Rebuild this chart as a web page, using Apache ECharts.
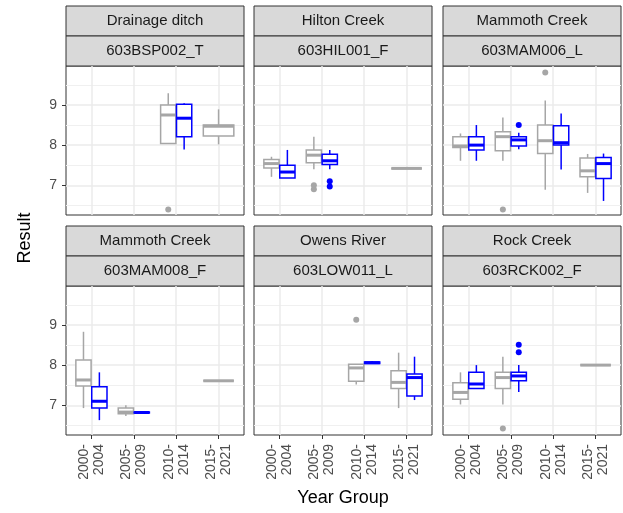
<!DOCTYPE html>
<html>
<head>
<meta charset="utf-8">
<script src="https://cdn.jsdelivr.net/npm/echarts@6/dist/echarts.min.js"></script>
<style>html,body{margin:0;padding:0;background:#fff}#main{width:623px;height:513px}</style>
</head>
<body>
<div id="main"></div>
<script>
var sites = ['Drainage ditch', 'Hilton Creek', 'Mammoth Creek', 'Mammoth Creek', 'Owens River', 'Rock Creek'];
var stations = ['603BSP002_T', '603HIL001_F', '603MAM006_L', '603MAM008_F', '603LOW011_L', '603RCK002_F'];
var yearGroups = ['2000-\n2004', '2005-\n2009', '2010-\n2014', '2015-\n2021'];
var yTicks = [7, 8, 9];
var yMinorTicks = [6.5, 7.5, 8.5, 9.5];

// [panel, year group, lower whisker, q1, median, q3, upper whisker]
var greyBoxes = [
	[0, 2, 8.04, 8.04, 8.75, 9.0, 9.29],
	[0, 3, 8.02, 8.23, 8.47, 8.5, 8.89],
	[1, 0, 7.21, 7.43, 7.54, 7.64, 7.71],
	[1, 1, 7.4, 7.56, 7.75, 7.88, 8.21],
	[1, 3, 7.42, 7.42, 7.42, 7.42, 7.42],
	[2, 0, 7.61, 7.94, 7.98, 8.21, 8.29],
	[2, 1, 7.61, 7.86, 8.21, 8.33, 8.69],
	[2, 2, 6.89, 7.79, 8.11, 8.5, 9.11],
	[2, 3, 6.81, 7.21, 7.36, 7.68, 7.78],
	[3, 0, 6.93, 7.48, 7.63, 8.13, 8.83],
	[3, 1, 6.73, 6.79, 6.83, 6.93, 7.0],
	[3, 3, 7.61, 7.61, 7.61, 7.61, 7.61],
	[4, 2, 7.52, 7.6, 7.93, 8.02, 8.02],
	[4, 3, 6.93, 7.42, 7.57, 7.86, 8.31],
	[5, 0, 7.02, 7.15, 7.32, 7.56, 7.82],
	[5, 1, 7.02, 7.42, 7.69, 7.82, 8.21],
	[5, 3, 8.0, 8.0, 8.0, 8.0, 8.0]
];
var blueBoxes = [
	[0, 2, 7.89, 8.21, 8.67, 9.02, 9.04],
	[1, 0, 7.18, 7.18, 7.33, 7.5, 7.88],
	[1, 1, 7.4, 7.52, 7.61, 7.77, 7.88],
	[2, 0, 7.61, 7.88, 8.0, 8.21, 8.5],
	[2, 1, 7.9, 7.98, 8.13, 8.21, 8.31],
	[2, 2, 7.39, 8.0, 8.06, 8.48, 8.79],
	[2, 3, 6.61, 7.17, 7.54, 7.69, 7.79],
	[3, 0, 6.63, 6.93, 7.1, 7.46, 7.82],
	[3, 1, 6.8, 6.81, 6.82, 6.83, 6.84],
	[4, 2, 8.03, 8.04, 8.06, 8.08, 8.1],
	[4, 3, 7.13, 7.23, 7.69, 7.78, 8.21],
	[5, 0, 7.42, 7.42, 7.53, 7.82, 8.0],
	[5, 1, 7.33, 7.61, 7.73, 7.82, 8.0]
];
// [panel, year group, value]
var greyOutliers = [[0, 2, 6.4], [1, 1, 6.9], [1, 1, 7.0], [2, 1, 6.4], [2, 2, 9.81], [4, 2, 9.13], [5, 1, 6.42]];
var blueOutliers = [[1, 1, 6.97], [1, 1, 7.1], [2, 1, 8.5], [5, 1, 8.32], [5, 1, 8.51]];

var GREY = '#A6A6A6', BLUE = '#0000FF';

function hasBox(list, p, c) {
	for (var i = 0; i < list.length; i++) {
		if (list[i][0] == p && list[i][1] == c) return true;
	}
	return false;
}
// dodge: two boxes share the 0.75 slot, a lone box fills it
function xPos(p, c, side) {
	if (hasBox(greyBoxes, p, c) && hasBox(blueBoxes, p, c)) return c + side * 0.1875;
	return c;
}
function boxWidth(p, c) {
	return (hasBox(greyBoxes, p, c) && hasBox(blueBoxes, p, c)) ? 0.36 : 0.72;
}

function renderBox(params, api) {
	var x = api.value(0), half = api.value(6) / 2;
	var lo = api.coord([x, api.value(1)]);
	var q1 = api.coord([x - half, api.value(2)]);
	var med = api.coord([x - half, api.value(3)]);
	var q3 = api.coord([x + half, api.value(4)]);
	var hi = api.coord([x, api.value(5)]);
	var color = api.visual('color');
	return {
		type: 'group',
		children: [
			{type: 'line', shape: {x1: lo[0], y1: lo[1], x2: lo[0], y2: q1[1]}, style: {stroke: color, lineWidth: 1.5}},
			{type: 'line', shape: {x1: hi[0], y1: hi[1], x2: hi[0], y2: q3[1]}, style: {stroke: color, lineWidth: 1.5}},
			{type: 'rect', shape: {x: q1[0], y: q3[1], width: q3[0] - q1[0], height: q1[1] - q3[1]},
				style: {fill: '#fff', stroke: color, lineWidth: 1.5}},
			{type: 'line', shape: {x1: q1[0], y1: med[1], x2: q3[0], y2: med[1]}, style: {stroke: color, lineWidth: 3}}
		]
	};
}

function buildOption() {
	var colLeft = [66, 254, 443];
	var rowTop = [66, 286];
	var panelW = 178, panelH = 149, stripH = 30;
	var grids = [], xAxes = [], yAxes = [], series = [], graphics = [];

	for (var p = 0; p < 6; p++) {
		var row = Math.floor(p / 3), col = p % 3;
		var gLeft = colLeft[col], gTop = rowTop[row];
		grids.push({
			left: gLeft, top: gTop, width: panelW, height: panelH,
			show: true, borderColor: '#333333', borderWidth: 1, backgroundColor: '#fff'
		});
		xAxes.push({
			gridIndex: p, type: 'value', min: -0.6, max: 3.6,
			axisLine: {show: false, onZero: false},
			axisTick: {show: row == 1, length: 4, customValues: [0, 1, 2, 3], lineStyle: {color: '#333333'}},
			axisLabel: {
				show: row == 1, customValues: [0, 1, 2, 3], rotate: 90, margin: 9,
				fontSize: 14, lineHeight: 15, color: '#4D4D4D', fontFamily: 'Liberation Sans',
				formatter: function (v) { return yearGroups[Math.round(v)]; }
			},
			splitLine: {show: true, lineStyle: {color: '#EBEBEB', width: 1.5}}
		});
		yAxes.push({
			gridIndex: p, type: 'value', min: 6.26, max: 9.97, position: 'left',
			axisLine: {show: false, onZero: false},
			axisTick: {show: col == 0, length: 4, customValues: yTicks, lineStyle: {color: '#333333'}},
			axisLabel: {show: col == 0, customValues: yTicks, margin: 9, fontSize: 14, color: '#4D4D4D', fontFamily: 'Liberation Sans'},
			splitLine: {show: true, lineStyle: {color: '#EBEBEB', width: 1.5}}
		});
		yAxes.push({
			gridIndex: p, type: 'value', min: 6.26, max: 9.97, position: 'right',
			axisLine: {show: false, onZero: false},
			axisTick: {show: false, customValues: yMinorTicks},
			axisLabel: {show: false},
			splitLine: {show: true, lineStyle: {color: '#F0F0F0', width: 1}}
		});

		var gb = [], bb = [], go = [], bo = [];
		greyBoxes.forEach(function (d) {
			if (d[0] == p) gb.push([xPos(p, d[1], -1), d[2], d[3], d[4], d[5], d[6], boxWidth(p, d[1])]);
		});
		blueBoxes.forEach(function (d) {
			if (d[0] == p) bb.push([xPos(p, d[1], 1), d[2], d[3], d[4], d[5], d[6], boxWidth(p, d[1])]);
		});
		greyOutliers.forEach(function (d) { if (d[0] == p) go.push([xPos(p, d[1], -1), d[2]]); });
		blueOutliers.forEach(function (d) { if (d[0] == p) bo.push([xPos(p, d[1], 1), d[2]]); });

		series.push({type: 'custom', xAxisIndex: p, yAxisIndex: 2 * p, renderItem: renderBox,
			itemStyle: {color: GREY}, encode: {x: 0, y: [1, 2, 3, 4, 5]}, data: gb, silent: true});
		series.push({type: 'custom', xAxisIndex: p, yAxisIndex: 2 * p, renderItem: renderBox,
			itemStyle: {color: BLUE}, encode: {x: 0, y: [1, 2, 3, 4, 5]}, data: bb, silent: true});
		series.push({type: 'scatter', xAxisIndex: p, yAxisIndex: 2 * p, symbolSize: 6,
			itemStyle: {color: GREY, opacity: 1}, data: go, silent: true});
		series.push({type: 'scatter', xAxisIndex: p, yAxisIndex: 2 * p, symbolSize: 6,
			itemStyle: {color: BLUE, opacity: 1}, data: bo, silent: true});

		// facet strips
		var labels = [sites[p], stations[p]];
		for (var s = 0; s < 2; s++) {
			var sy = gTop - stripH * (2 - s);
			graphics.push({
				type: 'rect', x: gLeft, y: sy,
				shape: {width: panelW, height: stripH},
				style: {fill: '#D9D9D9', stroke: '#333333', lineWidth: 1}
			});
			graphics.push({
				type: 'text', x: gLeft + panelW / 2, y: sy + stripH / 2,
				style: {text: labels[s], fill: '#1A1A1A', font: '15px "Liberation Sans"', textAlign: 'center', textVerticalAlign: 'middle'}
			});
		}
	}

	graphics.push({
		type: 'text', x: 25, y: 238, rotation: Math.PI / 2,
		style: {text: 'Result', fill: '#000', font: '18px "Liberation Sans"', textAlign: 'center', textVerticalAlign: 'middle'}
	});
	graphics.push({
		type: 'text', x: 343, y: 498,
		style: {text: 'Year Group', fill: '#000', font: '18px "Liberation Sans"', textAlign: 'center', textVerticalAlign: 'middle'}
	});

	return {
		animation: false,
		grid: grids,
		xAxis: xAxes,
		yAxis: yAxes,
		graphic: graphics,
		series: series
	};
}

var myChart = echarts.init(document.getElementById('main'));
myChart.setOption(buildOption());
</script>
</body>
</html>
